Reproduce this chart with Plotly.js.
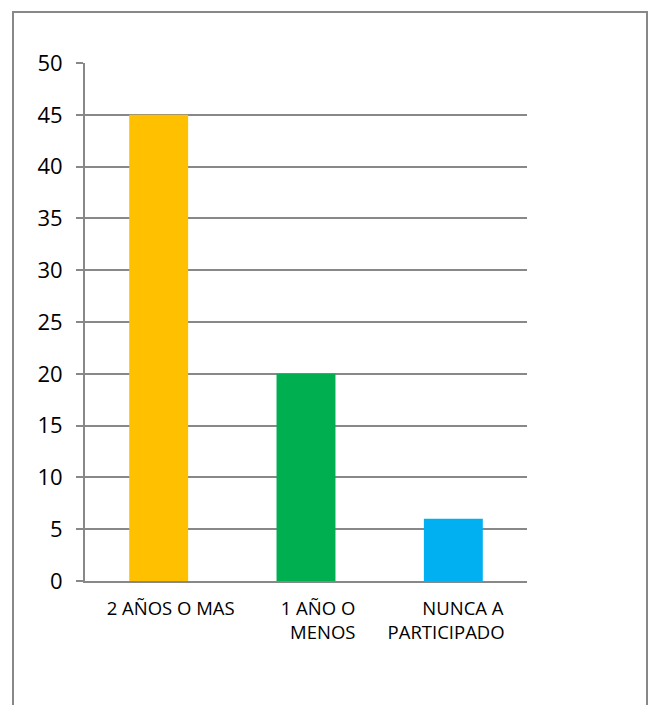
<!DOCTYPE html>
<html>
<head>
<meta charset="utf-8">
<script src="https://cdn.plot.ly/plotly-3.0.1.min.js"></script>
<style>
  html, body { margin: 0; padding: 0; background: #fff; }
  #wrap { position: relative; width: 653px; height: 705px; overflow: hidden; }
  #chart { width: 653px; height: 705px; }
  #frame { position: absolute; left: 12px; top: 11px; width: 632px; height: 760px;
           border: 2px solid #888; pointer-events: none; }
</style>
</head>
<body>
<div id="wrap">
  <div id="chart"></div>
  <div id="frame"></div>
</div>
<script>
const categories = ["2 AÑOS O MAS", "1 AÑO O MENOS", "NUNCA A PARTICIPADO"];
const tickLines = [["2 AÑOS O MAS"], ["1 AÑO O", "MENOS"], ["NUNCA A", "PARTICIPADO"]];
const values = [45, 20, 6];
const colors = ["#FFC000", "#00B050", "#00B0F0"];
const yTicks = [0, 5, 10, 15, 20, 25, 30, 35, 40, 45, 50];

// label placement (leading / trailing non-breaking spaces per line, imitating the original text boxes)
const pads = [[[5, 0]], [[5, 0], [7, 0]], [[4, 0], [0, 3]]];
const nb = n => "\u00a0".repeat(n);
const tickText = tickLines.map((lines, i) =>
  lines.map((ln, j) => nb(pads[i][j][0]) + ln + nb(pads[i][j][1])).join("<br>"));

Plotly.newPlot("chart", [{
  type: "bar",
  x: categories,
  y: values,
  marker: { color: colors },
  hoverinfo: "none"
}], {
  width: 653, height: 705,
  margin: { l: 85, r: 126, t: 63, b: 124 },
  paper_bgcolor: "#fff", plot_bgcolor: "#fff",
  bargap: 0.6,
  showlegend: false,
  font: { family: "Open Sans, Liberation Sans, sans-serif", color: "#000" },
  xaxis: {
    type: "category",
    tickvals: categories,
    ticktext: tickText,
    showline: true, linecolor: "#888", linewidth: 2,
    ticks: "", showgrid: false,
    tickfont: { size: 18.5, color: "#000" },
    ticklabelstandoff: 10
  },
  yaxis: {
    range: [0, 50],
    tickvals: yTicks,
    ticktext: yTicks.map(String),
    showline: true, linecolor: "#888", linewidth: 2,
    ticks: "outside", ticklen: 7, tickcolor: "#888", tickwidth: 2,
    showgrid: true, gridcolor: "#888", gridwidth: 2,
    zeroline: false,
    tickfont: { size: 22, color: "#000" },
    ticklabelstandoff: 9
  }
}, { displayModeBar: false, staticPlot: true });
</script>
</body>
</html>
